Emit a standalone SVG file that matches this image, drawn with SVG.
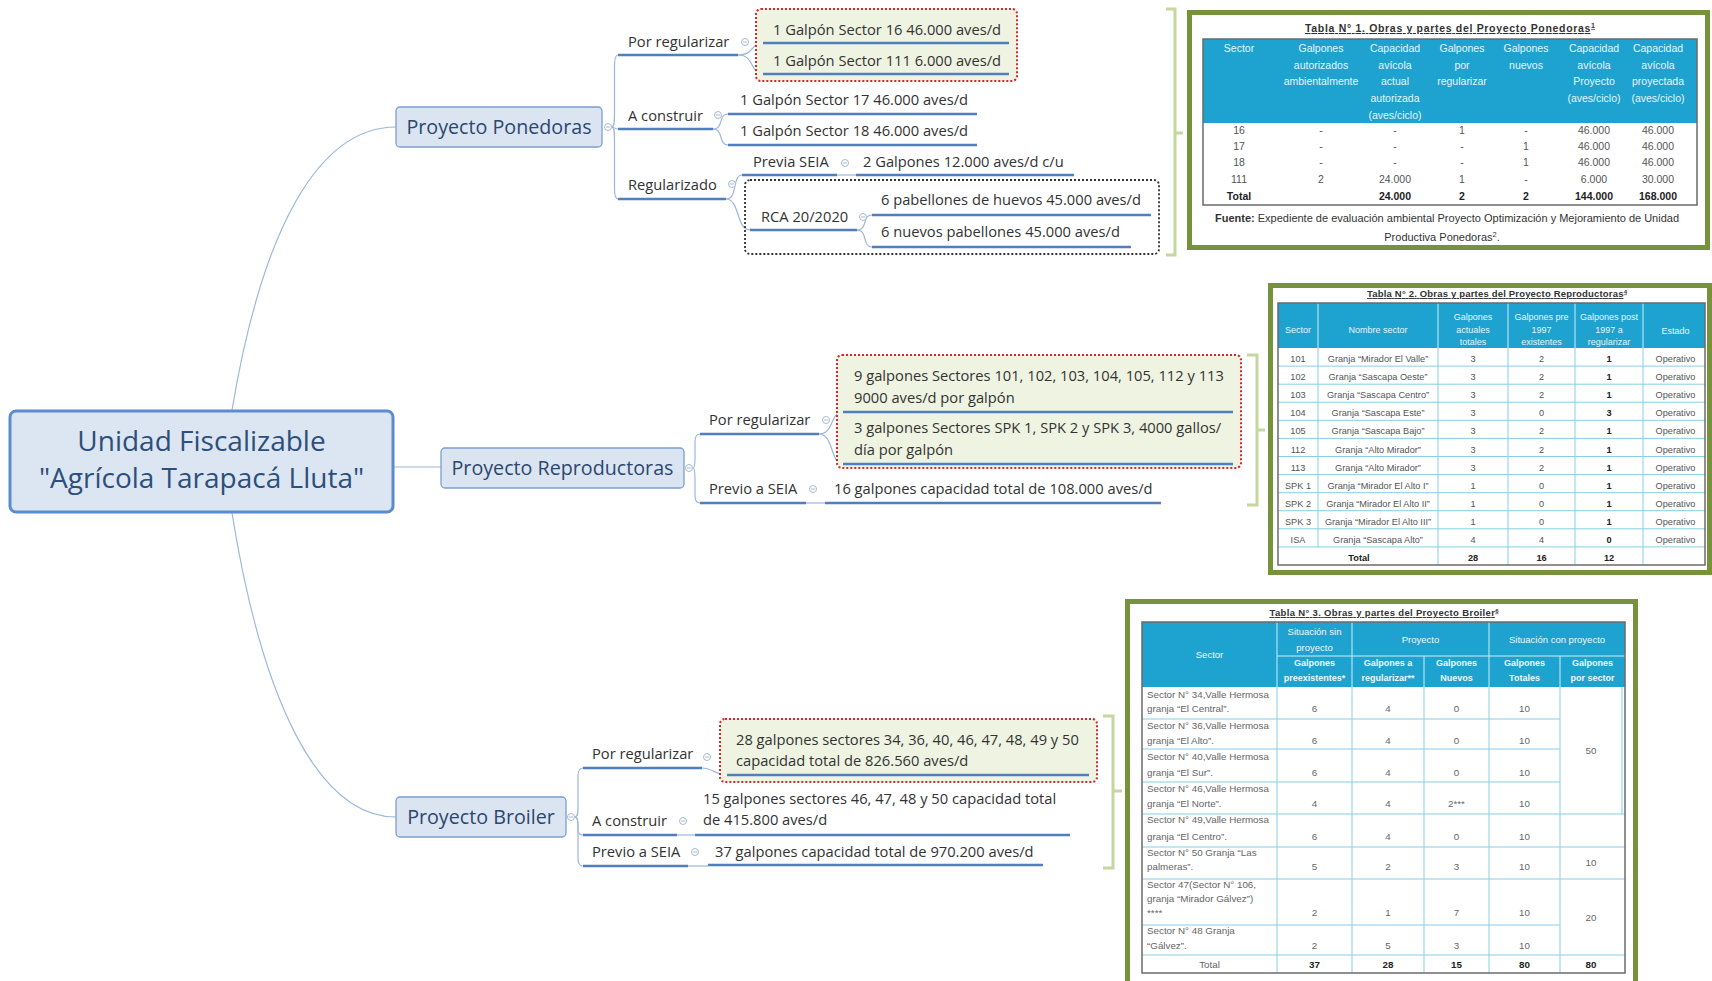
<svg xmlns="http://www.w3.org/2000/svg" width="1712" height="981" viewBox="0 0 1712 981">
<style>
.tm{font-family:"Open Sans","Liberation Sans",sans-serif;font-size:28px;fill:#2c4f7c;text-anchor:middle}
.tn{font-family:"Open Sans","Liberation Sans",sans-serif;font-size:19.7px;fill:#2c4770;text-anchor:middle}
.t{font-family:"Open Sans","Liberation Sans",sans-serif;font-size:14.7px;fill:#333}
.nm{fill:#dce6f2;stroke:#5a8ccf;stroke-width:3}
.n1{fill:#dbe5f1;stroke:#7b9fcf;stroke-width:1.3}
.ul{stroke:#4f7fbf;stroke-width:2.6;fill:none}
.cn{stroke:#9bb7dc;stroke-width:1.2;fill:none}
.cl{fill:#fff;stroke:#a9b9cc;stroke-width:1}
.clm{stroke:#a9b9cc;stroke-width:1}
.rb{fill:#eef3e2;stroke:#d8262b;stroke-width:2;stroke-dasharray:2 2}
.kb{fill:none;stroke:#333;stroke-width:1.8;stroke-dasharray:2 2}
.br{fill:none;stroke:#c4d79e;stroke-width:3}
.fr{fill:#fff;stroke:#76923c;stroke-width:5}
.th{fill:#1ea2cf}
.tb{fill:none;stroke:#6b6b6b;stroke-width:1.5}
.g{stroke:#86cfe4;stroke-width:1}
.gw{stroke:#cdeef8;stroke-width:1}
.tt{font-family:"Liberation Sans",Arial,sans-serif;text-anchor:middle}
.h1{font-size:10.5px;fill:#e6f5fb}
.d1{font-size:10.5px;fill:#555}
.h2{font-size:9px;fill:#e6f5fb}
.d2{font-size:9.2px;fill:#555}
.h3{font-size:9.5px;fill:#eef8fc}
.s3{font-size:9px;fill:#eef8fc;font-weight:bold}
.d3{font-size:9.8px;fill:#666}
.b{font-weight:bold;fill:#222}
.ttl{font-family:"Liberation Sans",Arial,sans-serif;font-weight:bold;fill:#333;text-anchor:middle;text-decoration:underline}
.fu{font-family:"Liberation Sans",Arial,sans-serif;font-size:11px;fill:#333;text-anchor:middle}
</style>
<defs>
<g id="col"><circle r="3.5" class="cl"/><line x1="-2" y1="0" x2="2" y2="0" class="clm"/></g>
</defs>
<rect width="1712" height="981" fill="#fff"/>

<g id="connectors">
<path class="cn" d="M232,410 C262,230 318,127 396,127"/>
<path class="cn" d="M393,467 L441,467"/>
<path class="cn" d="M232,513 C262,700 318,817 396,817"/>
<!-- Ponedoras -->
<path class="cn" d="M612,127 C614.5,127 614.5,120 614.5,112 L614.5,66 C614.5,58 615.5,55 618,55"/>
<path class="cn" d="M612,127 C614.5,127 614.5,129 618,129"/>
<path class="cn" d="M612,127 C614.5,127 614.5,134 614.5,142 L614.5,188 C614.5,196 615.5,199 618,199"/>
<path class="cn" d="M738,55 C755,55 750,43 763,43"/>
<path class="cn" d="M738,55 C755,55 750,74 763,74"/>
<path class="cn" d="M713,129 C724,129 718,114 728,114"/>
<path class="cn" d="M713,129 C724,129 718,145 728,145"/>
<path class="cn" d="M726,199 C738,199 732,175 742,175"/>
<path class="cn" d="M726,199 C740,199 736,230 750,230"/>
<path class="cn" d="M837,175 L856,175"/>
<path class="cn" d="M857,230 C868,230 862,215 872,215"/>
<path class="cn" d="M857,230 C868,230 862,247 872,247"/>
<!-- Reproductoras -->
<path class="cn" d="M693,468 C695,468 695,463 695,458 L695,442 C695,436 697,434 700,434"/>
<path class="cn" d="M693,468 C695,468 695,473 695,478 L695,496 C695,501 697,503 700,503"/>
<path class="cn" d="M819,434 C834,434 830,412 843,412"/>
<path class="cn" d="M819,434 C834,434 830,464 843,464"/>
<path class="cn" d="M806,503 L825,503"/>
<!-- Broiler -->
<path class="cn" d="M575,817 C578,817 578,812 578,806 L578,776 C578,770 580,768 583,768"/>
<path class="cn" d="M575,817 C578,817 578,822 578,826 L578,830 C578,833 580,835 583,835"/>
<path class="cn" d="M575,817 C578,817 578,822 578,828 L578,858 C578,863 580,866 583,866"/>
<path class="cn" d="M702,768 C712,768 716,775 727,775"/>
<path class="cn" d="M677,835 L695,835"/>
<path class="cn" d="M688,866 L708,866"/>
<!-- brackets -->
<path class="br" d="M1166,9 L1175,9 L1175,255 L1166,255 M1175,133 L1183,133"/>
<path class="br" d="M1247,355 L1257,355 L1257,505 L1247,505 M1257,430 L1265,430"/>
<path class="br" d="M1103,716 L1113,716 L1113,868 L1103,868 M1113,791 L1122,791"/>
</g>

<g id="node-central">
<rect class="nm" x="10" y="411" width="383" height="101" rx="6"/>
<text class="tm" x="201.5" y="451">Unidad Fiscalizable</text>
<text class="tm" x="201.5" y="488">"Agrícola Tarapacá Lluta"</text>
</g>

<g id="node-ponedoras">
<rect class="n1" x="396" y="107" width="206" height="40" rx="4"/>
<text class="tn" x="499" y="134">Proyecto Ponedoras</text>
<use href="#col" x="608" y="127"/>
</g>
<g id="pon-por-regularizar">
<rect class="rb" x="756" y="9" width="261" height="72" rx="5"/>
<text class="t" x="628" y="47">Por regularizar</text>
<line class="ul" x1="618" y1="55" x2="738" y2="55"/>
<use href="#col" x="745" y="42"/>
<text class="t" x="773" y="35">1 Galpón Sector 16 46.000 aves/d</text>
<line class="ul" x1="763" y1="43" x2="1009" y2="43"/>
<text class="t" x="773" y="66">1 Galpón Sector 111 6.000 aves/d</text>
<line class="ul" x1="763" y1="74" x2="1009" y2="74"/>
</g>
<g id="pon-a-construir">
<text class="t" x="628" y="121">A construir</text>
<line class="ul" x1="618" y1="129" x2="713" y2="129"/>
<use href="#col" x="718" y="115"/>
<text class="t" x="740" y="105">1 Galpón Sector 17 46.000 aves/d</text>
<line class="ul" x1="728" y1="114" x2="977" y2="114"/>
<text class="t" x="740" y="136">1 Galpón Sector 18 46.000 aves/d</text>
<line class="ul" x1="728" y1="145" x2="977" y2="145"/>
</g>
<g id="pon-regularizado">
<rect class="kb" x="745" y="180" width="414" height="74" rx="5"/>
<text class="t" x="628" y="190">Regularizado</text>
<line class="ul" x1="618" y1="199" x2="726" y2="199"/>
<use href="#col" x="732" y="184"/>
<text class="t" x="753" y="167">Previa SEIA</text>
<line class="ul" x1="742" y1="175" x2="837" y2="175"/>
<use href="#col" x="845" y="163"/>
<text class="t" x="863" y="167">2 Galpones 12.000 aves/d c/u</text>
<line class="ul" x1="856" y1="175" x2="1074" y2="175"/>
<text class="t" x="761" y="222">RCA 20/2020</text>
<line class="ul" x1="750" y1="230" x2="857" y2="230"/>
<use href="#col" x="863" y="217"/>
<text class="t" x="881" y="205">6 pabellones de huevos 45.000 aves/d</text>
<line class="ul" x1="872" y1="215" x2="1151" y2="215"/>
<text class="t" x="881" y="237">6 nuevos pabellones 45.000 aves/d</text>
<line class="ul" x1="872" y1="247" x2="1131" y2="247"/>
</g>

<g id="node-reproductoras">
<rect class="n1" x="441" y="448" width="243" height="40" rx="4"/>
<text class="tn" x="562.5" y="475">Proyecto Reproductoras</text>
<use href="#col" x="689" y="468"/>
</g>
<g id="rep-por-regularizar">
<rect class="rb" x="837" y="355" width="404" height="113" rx="5"/>
<text class="t" x="709" y="425">Por regularizar</text>
<line class="ul" x1="700" y1="434" x2="819" y2="434"/>
<use href="#col" x="826" y="420"/>
<text class="t" x="854" y="381">9 galpones Sectores 101, 102, 103, 104, 105, 112 y 113</text>
<text class="t" x="854" y="403">9000 aves/d por galpón</text>
<line class="ul" x1="843" y1="412" x2="1233" y2="412"/>
<text class="t" x="854" y="433">3 galpones Sectores SPK 1, SPK 2 y SPK 3, 4000 gallos/</text>
<text class="t" x="854" y="455">día por galpón</text>
<line class="ul" x1="843" y1="464" x2="1233" y2="464"/>
</g>
<g id="rep-previo-seia">
<text class="t" x="709" y="494">Previo a SEIA</text>
<line class="ul" x1="700" y1="503" x2="806" y2="503"/>
<use href="#col" x="813" y="489"/>
<text class="t" x="834" y="494">16 galpones capacidad total de 108.000 aves/d</text>
<line class="ul" x1="825" y1="503" x2="1161" y2="503"/>
</g>

<g id="node-broiler">
<rect class="n1" x="396" y="797" width="170" height="40" rx="4"/>
<text class="tn" x="481" y="824">Proyecto Broiler</text>
<use href="#col" x="571" y="817"/>
</g>
<g id="bro-por-regularizar">
<rect class="rb" x="720" y="719" width="377" height="63" rx="5"/>
<text class="t" x="592" y="759">Por regularizar</text>
<line class="ul" x1="583" y1="768" x2="702" y2="768"/>
<use href="#col" x="707" y="757"/>
<text class="t" x="736" y="745">28 galpones sectores 34, 36, 40, 46, 47, 48, 49 y 50</text>
<text class="t" x="736" y="766">capacidad total de 826.560 aves/d</text>
<line class="ul" x1="727" y1="775" x2="1089" y2="775"/>
</g>
<g id="bro-a-construir">
<text class="t" x="592" y="826">A construir</text>
<line class="ul" x1="583" y1="835" x2="677" y2="835"/>
<use href="#col" x="683" y="821"/>
<text class="t" x="703" y="804">15 galpones sectores 46, 47, 48 y 50 capacidad total</text>
<text class="t" x="703" y="825">de 415.800 aves/d</text>
<line class="ul" x1="695" y1="835" x2="1070" y2="835"/>
</g>
<g id="bro-previo-seia">
<text class="t" x="592" y="857">Previo a SEIA</text>
<line class="ul" x1="583" y1="866" x2="688" y2="866"/>
<use href="#col" x="695" y="852"/>
<text class="t" x="715" y="857">37 galpones capacidad total de 970.200 aves/d</text>
<line class="ul" x1="708" y1="865" x2="1043" y2="865"/>
</g>

<g id="tabla-1">
<rect class="fr" x="1189.5" y="12.5" width="518" height="235"/>
<text class="ttl" x="1450" y="32" font-size="10.5" textLength="290">Tabla N° 1. Obras y partes del Proyecto Ponedoras<tspan font-size="7" dy="-4">1</tspan></text>
<rect class="th" x="1203" y="39" width="494" height="84"/>
<rect class="tb" x="1203" y="39" width="494" height="166"/>
<g class="tt h1">
<text x="1239" y="52">Sector</text>
<text x="1321" y="52">Galpones</text><text x="1321" y="68.5">autorizados</text><text x="1321" y="84.5">ambientalmente</text>
<text x="1395" y="52">Capacidad</text><text x="1395" y="68.5">avícola</text><text x="1395" y="84.5">actual</text><text x="1395" y="102">autorizada</text><text x="1395" y="118.5">(aves/ciclo)</text>
<text x="1462" y="52">Galpones</text><text x="1462" y="68.5">por</text><text x="1462" y="84.5">regularizar</text>
<text x="1526" y="52">Galpones</text><text x="1526" y="68.5">nuevos</text>
<text x="1594" y="52">Capacidad</text><text x="1594" y="68.5">avícola</text><text x="1594" y="84.5">Proyecto</text><text x="1594" y="102">(aves/ciclo)</text>
<text x="1658" y="52">Capacidad</text><text x="1658" y="68.5">avícola</text><text x="1658" y="84.5">proyectada</text><text x="1658" y="102">(aves/ciclo)</text>
</g>
<g class="tt d1">
<text x="1239" y="134">16</text><text x="1321" y="134">-</text><text x="1395" y="134">-</text><text x="1462" y="134">1</text><text x="1526" y="134">-</text><text x="1594" y="134">46.000</text><text x="1658" y="134">46.000</text>
<text x="1239" y="150">17</text><text x="1321" y="150">-</text><text x="1395" y="150">-</text><text x="1462" y="150">-</text><text x="1526" y="150">1</text><text x="1594" y="150">46.000</text><text x="1658" y="150">46.000</text>
<text x="1239" y="166">18</text><text x="1321" y="166">-</text><text x="1395" y="166">-</text><text x="1462" y="166">-</text><text x="1526" y="166">1</text><text x="1594" y="166">46.000</text><text x="1658" y="166">46.000</text>
<text x="1239" y="183">111</text><text x="1321" y="183">2</text><text x="1395" y="183">24.000</text><text x="1462" y="183">1</text><text x="1526" y="183">-</text><text x="1594" y="183">6.000</text><text x="1658" y="183">30.000</text>
<g class="b"><text x="1239" y="200">Total</text><text x="1395" y="200">24.000</text><text x="1462" y="200">2</text><text x="1526" y="200">2</text><text x="1594" y="200">144.000</text><text x="1658" y="200">168.000</text></g>
</g>
<text class="fu" x="1447" y="222"><tspan font-weight="bold">Fuente:</tspan> Expediente de evaluación ambiental Proyecto Optimización y Mejoramiento de Unidad</text>
<text class="fu" x="1442" y="241">Productiva Ponedoras<tspan font-size="7.5" dy="-4">2</tspan><tspan dy="4">.</tspan></text>
</g>

<g id="tabla-2">
<rect class="fr" x="1270.5" y="285.5" width="439" height="287"/>
<text class="ttl" x="1497" y="297" font-size="9.5" textLength="260">Tabla N° 2. Obras y partes del Proyecto Reproductoras<tspan font-size="6" dy="-3.5">4</tspan></text>
<rect class="th" x="1278" y="303" width="427" height="45"/>
<g>
<line class="gw" x1="1318" y1="303" x2="1318" y2="348"/><line class="gw" x1="1438" y1="303" x2="1438" y2="348"/><line class="gw" x1="1508" y1="303" x2="1508" y2="348"/><line class="gw" x1="1575" y1="303" x2="1575" y2="348"/><line class="gw" x1="1643" y1="303" x2="1643" y2="348"/>
<line class="g" x1="1318" y1="348" x2="1318" y2="547"/><line class="g" x1="1438" y1="348" x2="1438" y2="565"/><line class="g" x1="1508" y1="348" x2="1508" y2="565"/><line class="g" x1="1575" y1="348" x2="1575" y2="565"/><line class="g" x1="1643" y1="348" x2="1643" y2="565"/>
<line class="g" x1="1278" y1="366.1" x2="1705" y2="366.1"/><line class="g" x1="1278" y1="384.2" x2="1705" y2="384.2"/><line class="g" x1="1278" y1="402.2" x2="1705" y2="402.2"/><line class="g" x1="1278" y1="420.3" x2="1705" y2="420.3"/><line class="g" x1="1278" y1="438.4" x2="1705" y2="438.4"/><line class="g" x1="1278" y1="456.5" x2="1705" y2="456.5"/><line class="g" x1="1278" y1="474.6" x2="1705" y2="474.6"/><line class="g" x1="1278" y1="492.7" x2="1705" y2="492.7"/><line class="g" x1="1278" y1="510.7" x2="1705" y2="510.7"/><line class="g" x1="1278" y1="528.8" x2="1705" y2="528.8"/><line class="g" x1="1278" y1="546.9" x2="1705" y2="546.9"/>
</g>
<rect class="tb" x="1278" y="303" width="427" height="262"/>
<g class="tt h2">
<text x="1298" y="333">Sector</text>
<text x="1378" y="333">Nombre sector</text>
<text x="1473" y="320">Galpones</text><text x="1473" y="332.5">actuales</text><text x="1473" y="345">totales</text>
<text x="1541.5" y="320">Galpones pre</text><text x="1541.5" y="332.5">1997</text><text x="1541.5" y="345">existentes</text>
<text x="1609" y="320">Galpones post</text><text x="1609" y="332.5">1997 a</text><text x="1609" y="345">regularizar</text>
<text x="1675.5" y="334">Estado</text>
</g>
<g class="tt d2">
<text x="1298" y="362">101</text><text x="1378" y="362">Granja “Mirador El Valle”</text><text x="1473" y="362">3</text><text x="1541.5" y="362">2</text><text class="b" x="1609" y="362">1</text><text x="1675.5" y="362">Operativo</text>
<text x="1298" y="380">102</text><text x="1378" y="380">Granja “Sascapa Oeste”</text><text x="1473" y="380">3</text><text x="1541.5" y="380">2</text><text class="b" x="1609" y="380">1</text><text x="1675.5" y="380">Operativo</text>
<text x="1298" y="398">103</text><text x="1378" y="398">Granja “Sascapa Centro”</text><text x="1473" y="398">3</text><text x="1541.5" y="398">2</text><text class="b" x="1609" y="398">1</text><text x="1675.5" y="398">Operativo</text>
<text x="1298" y="416">104</text><text x="1378" y="416">Granja “Sascapa Este”</text><text x="1473" y="416">3</text><text x="1541.5" y="416">0</text><text class="b" x="1609" y="416">3</text><text x="1675.5" y="416">Operativo</text>
<text x="1298" y="434">105</text><text x="1378" y="434">Granja “Sascapa Bajo”</text><text x="1473" y="434">3</text><text x="1541.5" y="434">2</text><text class="b" x="1609" y="434">1</text><text x="1675.5" y="434">Operativo</text>
<text x="1298" y="452.5">112</text><text x="1378" y="452.5">Granja “Alto Mirador”</text><text x="1473" y="452.5">3</text><text x="1541.5" y="452.5">2</text><text class="b" x="1609" y="452.5">1</text><text x="1675.5" y="452.5">Operativo</text>
<text x="1298" y="470.5">113</text><text x="1378" y="470.5">Granja “Alto Mirador”</text><text x="1473" y="470.5">3</text><text x="1541.5" y="470.5">2</text><text class="b" x="1609" y="470.5">1</text><text x="1675.5" y="470.5">Operativo</text>
<text x="1298" y="488.5">SPK 1</text><text x="1378" y="488.5">Granja “Mirador El Alto I”</text><text x="1473" y="488.5">1</text><text x="1541.5" y="488.5">0</text><text class="b" x="1609" y="488.5">1</text><text x="1675.5" y="488.5">Operativo</text>
<text x="1298" y="506.5">SPK 2</text><text x="1378" y="506.5">Granja “Mirador El Alto II”</text><text x="1473" y="506.5">1</text><text x="1541.5" y="506.5">0</text><text class="b" x="1609" y="506.5">1</text><text x="1675.5" y="506.5">Operativo</text>
<text x="1298" y="524.5">SPK 3</text><text x="1378" y="524.5">Granja “Mirador El Alto III”</text><text x="1473" y="524.5">1</text><text x="1541.5" y="524.5">0</text><text class="b" x="1609" y="524.5">1</text><text x="1675.5" y="524.5">Operativo</text>
<text x="1298" y="543">ISA</text><text x="1378" y="543">Granja “Sascapa Alto”</text><text x="1473" y="543">4</text><text x="1541.5" y="543">4</text><text class="b" x="1609" y="543">0</text><text x="1675.5" y="543">Operativo</text>
<g class="b"><text x="1359" y="561">Total</text><text x="1473" y="561">28</text><text x="1541.5" y="561">16</text><text x="1609" y="561">12</text></g>
</g>
</g>

<g id="tabla-3">
<rect class="fr" x="1127.5" y="601.5" width="508" height="400"/>
<text class="ttl" x="1384" y="616" font-size="9.5" textLength="229">Tabla N° 3. Obras y partes del Proyecto Broiler<tspan font-size="6" dy="-3.5">6</tspan></text>
<rect class="th" x="1142" y="622" width="483" height="65"/>
<g>
<line class="gw" x1="1277" y1="622" x2="1277" y2="687"/><line class="gw" x1="1352" y1="622" x2="1352" y2="687"/><line class="gw" x1="1489" y1="622" x2="1489" y2="687"/><line class="gw" x1="1424" y1="656" x2="1424" y2="687"/><line class="gw" x1="1560" y1="656" x2="1560" y2="687"/><line class="gw" x1="1277" y1="656" x2="1625" y2="656"/>
<line class="g" x1="1277" y1="687" x2="1277" y2="973"/><line class="g" x1="1352" y1="687" x2="1352" y2="973"/><line class="g" x1="1424" y1="687" x2="1424" y2="973"/><line class="g" x1="1489" y1="687" x2="1489" y2="973"/><line class="g" x1="1560" y1="687" x2="1560" y2="973"/><line class="g" x1="1622" y1="687" x2="1622" y2="814"/>
<line class="g" x1="1142" y1="719" x2="1560" y2="719"/><line class="g" x1="1142" y1="749" x2="1560" y2="749"/><line class="g" x1="1142" y1="782" x2="1560" y2="782"/><line class="g" x1="1142" y1="814" x2="1625" y2="814"/><line class="g" x1="1142" y1="847" x2="1625" y2="847"/><line class="g" x1="1142" y1="879" x2="1625" y2="879"/><line class="g" x1="1142" y1="925" x2="1560" y2="925"/><line class="g" x1="1142" y1="955" x2="1625" y2="955"/>
</g>
<rect class="tb" x="1142" y="622" width="483" height="351"/>
<g class="tt h3">
<text x="1209.5" y="658">Sector</text>
<text x="1314.5" y="635">Situación sin</text><text x="1314.5" y="651">proyecto</text>
<text x="1420.5" y="643">Proyecto</text>
<text x="1557" y="643">Situación con proyecto</text>
</g>
<g class="tt s3">
<text x="1314.5" y="666">Galpones</text><text x="1314.5" y="681">preexistentes*</text>
<text x="1388" y="666">Galpones a</text><text x="1388" y="681">regularizar**</text>
<text x="1456.5" y="666">Galpones</text><text x="1456.5" y="681">Nuevos</text>
<text x="1524.5" y="666">Galpones</text><text x="1524.5" y="681">Totales</text>
<text x="1592.5" y="666">Galpones</text><text x="1592.5" y="681">por sector</text>
</g>
<g class="tt d3" text-anchor="start">
<text x="1147" y="698" text-anchor="start">Sector N° 34,Valle Hermosa</text><text x="1147" y="712" text-anchor="start">granja “El Central”.</text>
<text x="1147" y="729" text-anchor="start">Sector N° 36,Valle Hermosa</text><text x="1147" y="744" text-anchor="start">granja “El Alto”.</text>
<text x="1147" y="760" text-anchor="start">Sector N° 40,Valle Hermosa</text><text x="1147" y="776" text-anchor="start">granja “El Sur”.</text>
<text x="1147" y="792" text-anchor="start">Sector N° 46,Valle Hermosa</text><text x="1147" y="807" text-anchor="start">granja “El Norte”.</text>
<text x="1147" y="823" text-anchor="start">Sector N° 49,Valle Hermosa</text><text x="1147" y="840" text-anchor="start">granja “El Centro”.</text>
<text x="1147" y="856" text-anchor="start">Sector N° 50 Granja “Las</text><text x="1147" y="870" text-anchor="start">palmeras”.</text>
<text x="1147" y="888" text-anchor="start">Sector 47(Sector N° 106,</text><text x="1147" y="902" text-anchor="start">granja “Mirador Gálvez”)</text><text x="1147" y="916" text-anchor="start">****</text>
<text x="1147" y="934" text-anchor="start">Sector N° 48 Granja</text><text x="1147" y="949" text-anchor="start">“Gálvez”.</text>
</g>
<g class="tt d3">
<text x="1314.5" y="712">6</text><text x="1388" y="712">4</text><text x="1456.5" y="712">0</text><text x="1524.5" y="712">10</text>
<text x="1314.5" y="744">6</text><text x="1388" y="744">4</text><text x="1456.5" y="744">0</text><text x="1524.5" y="744">10</text>
<text x="1314.5" y="776">6</text><text x="1388" y="776">4</text><text x="1456.5" y="776">0</text><text x="1524.5" y="776">10</text>
<text x="1314.5" y="807">4</text><text x="1388" y="807">4</text><text x="1456.5" y="807">2***</text><text x="1524.5" y="807">10</text>
<text x="1314.5" y="840">6</text><text x="1388" y="840">4</text><text x="1456.5" y="840">0</text><text x="1524.5" y="840">10</text>
<text x="1314.5" y="870">5</text><text x="1388" y="870">2</text><text x="1456.5" y="870">3</text><text x="1524.5" y="870">10</text>
<text x="1314.5" y="916">2</text><text x="1388" y="916">1</text><text x="1456.5" y="916">7</text><text x="1524.5" y="916">10</text>
<text x="1314.5" y="949">2</text><text x="1388" y="949">5</text><text x="1456.5" y="949">3</text><text x="1524.5" y="949">10</text>
<text x="1591" y="754">50</text><text x="1591" y="866">10</text><text x="1591" y="921">20</text>
<text x="1209.5" y="968">Total</text>
<g class="b"><text x="1314.5" y="968">37</text><text x="1388" y="968">28</text><text x="1456.5" y="968">15</text><text x="1524.5" y="968">80</text><text x="1591" y="968">80</text></g>
</g>
</g>
</svg>
